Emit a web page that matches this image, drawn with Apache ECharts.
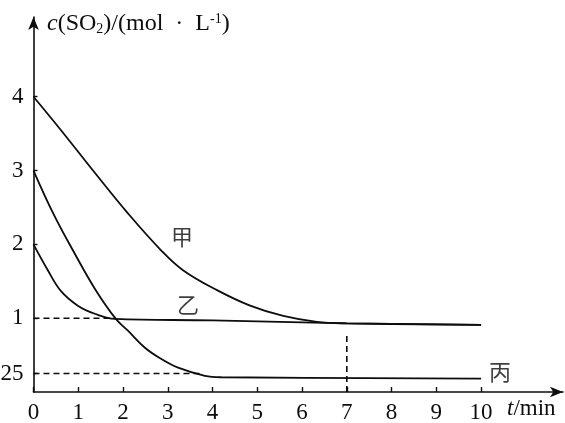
<!DOCTYPE html>
<html>
<head>
<meta charset="utf-8">
<script src="https://cdn.jsdelivr.net/npm/echarts@6/dist/echarts.min.js"></script>
<style>
html,body{margin:0;padding:0;background:#fff;}
#chart{width:565px;height:423px;}
</style>
</head>
<body>
<div id="chart"></div>
<script>
// ---- data ----
const jiaT = [0, 0.61, 1.37, 2.11, 2.85, 3.34, 4.10, 4.84, 5.58, 6.33, 7.0, 10];
const jiaV = [4, 3.55, 2.97, 2.42, 1.92, 1.65, 1.38, 1.17, 1.03, 0.95, 0.93, 0.91];

const yiT = [0, 0.32, 0.61, 0.99, 1.37, 1.82, 4.0, 7.0, 10];
const yiV = [2, 1.65, 1.37, 1.17, 1.06, 0.99, 0.97, 0.93, 0.91];

const bingT = [0, 0.44, 0.88, 1.37, 1.84, 2.11, 2.49, 2.85, 3.23, 3.83, 4.2, 10];
const bingV = [3, 2.42, 1.92, 1.40, 0.99, 0.83, 0.60, 0.45, 0.33, 0.22, 0.20, 0.18];

const xTicks = [0, 1, 2, 3, 4, 5, 6, 7, 8, 9, 10];
const yTicks = [0.25, 1, 2, 3, 4];

const guide1 = [[0, 1], [1.82, 1]];
const guide2 = [[0, 0.25], [3.75, 0.25]];
const guide3 = [[7, 0], [7, 0.81]];

const curveNames = ['甲', '乙', '丙'];
const curveLabelT = [3.32, 3.45, 10.42];
const curveLabelV = [2.10, 1.19, 0.27];

// ---- build ----
const zip = (a, b) => a.map((v, i) => [v, b[i]]);
const serif = '"Liberation Serif", "DejaVu Serif", serif';
const cjk = '"Noto Sans CJK SC", sans-serif';
const ink = '#0d0d0d';

const curve = (name, data) => ({
  name, type: 'line', data, smooth: 0.4,
  symbol: 'none', lineStyle: { color: ink, width: 1.8 }, silent: true, z: 3
});
const dashed = (data) => ({
  type: 'line', data, symbol: 'none',
  lineStyle: { color: ink, width: 1.6, type: [6, 4] }, silent: true, z: 2
});

const chart = echarts.init(document.getElementById('chart'), null, { renderer: 'canvas' });
chart.setOption({
  animation: false,
  backgroundColor: '#fff',
  grid: { left: 33.5, top: 17, bottom: 31, width: 529.5, containLabel: false, outerBoundsMode: 'none' },
  xAxis: {
    type: 'value', min: 0, max: 11.83,
    axisLine: { show: true, symbol: ['none', 'arrow'], symbolSize: [8, 13],
      lineStyle: { color: ink, width: 1.6 } },
    axisTick: { show: true, inside: true, length: 5, customValues: xTicks, lineStyle: { color: ink, width: 1.4 } },
    axisLabel: { customValues: xTicks, color: ink, fontFamily: serif, fontSize: 23, margin: 9 },
    splitLine: { show: false }
  },
  yAxis: {
    type: 'value', min: 0, max: 5.08,
    axisLine: { show: true, symbol: ['none', 'arrow'], symbolSize: [8, 13],
      lineStyle: { color: ink, width: 1.6 } },
    axisTick: { show: true, inside: true, length: 4, customValues: yTicks, lineStyle: { color: ink, width: 1.4 } },
    axisLabel: { customValues: yTicks, color: ink, fontFamily: serif, fontSize: 23, margin: 10,
      formatter: v => String(v) },
    splitLine: { show: false }
  },
  graphic: [
    {
      type: 'text', left: 47, top: 12,
      style: {
        text: '{i|c}(SO{sub|2})/(mol  ·  L{sup|-1})',
        fill: ink, font: '24px ' + serif,
        rich: {
          i: { fontStyle: 'italic', fontSize: 24, fontFamily: serif, fill: ink },
          sub: { fontSize: 14, fontFamily: serif, verticalAlign: 'bottom', padding: [10, 0, 0, 0], fill: ink },
          sup: { fontSize: 14, fontFamily: serif, verticalAlign: 'top', padding: [0, 0, 9, 0], fill: ink }
        }
      }
    },
    {
      type: 'text', left: 507, top: 397,
      style: {
        text: '{i|t}/min', fill: ink, font: '23px ' + serif,
        rich: { i: { fontStyle: 'italic', fontSize: 23, fontFamily: serif, fill: ink } }
      }
    }
  ],
  series: [
    curve('甲', zip(jiaT, jiaV)),
    curve('乙', zip(yiT, yiV)),
    curve('丙', zip(bingT, bingV)),
    dashed(guide1), dashed(guide2), dashed(guide3),
    {
      type: 'scatter', symbolSize: 0, silent: true,
      data: curveNames.map((n, i) => ({ value: [curveLabelT[i], curveLabelV[i]], name: n })),
      label: { show: true, position: 'inside', formatter: p => p.name,
        color: ink, fontFamily: cjk, fontSize: 22 }
    }
  ]
});
</script>
</body>
</html>
